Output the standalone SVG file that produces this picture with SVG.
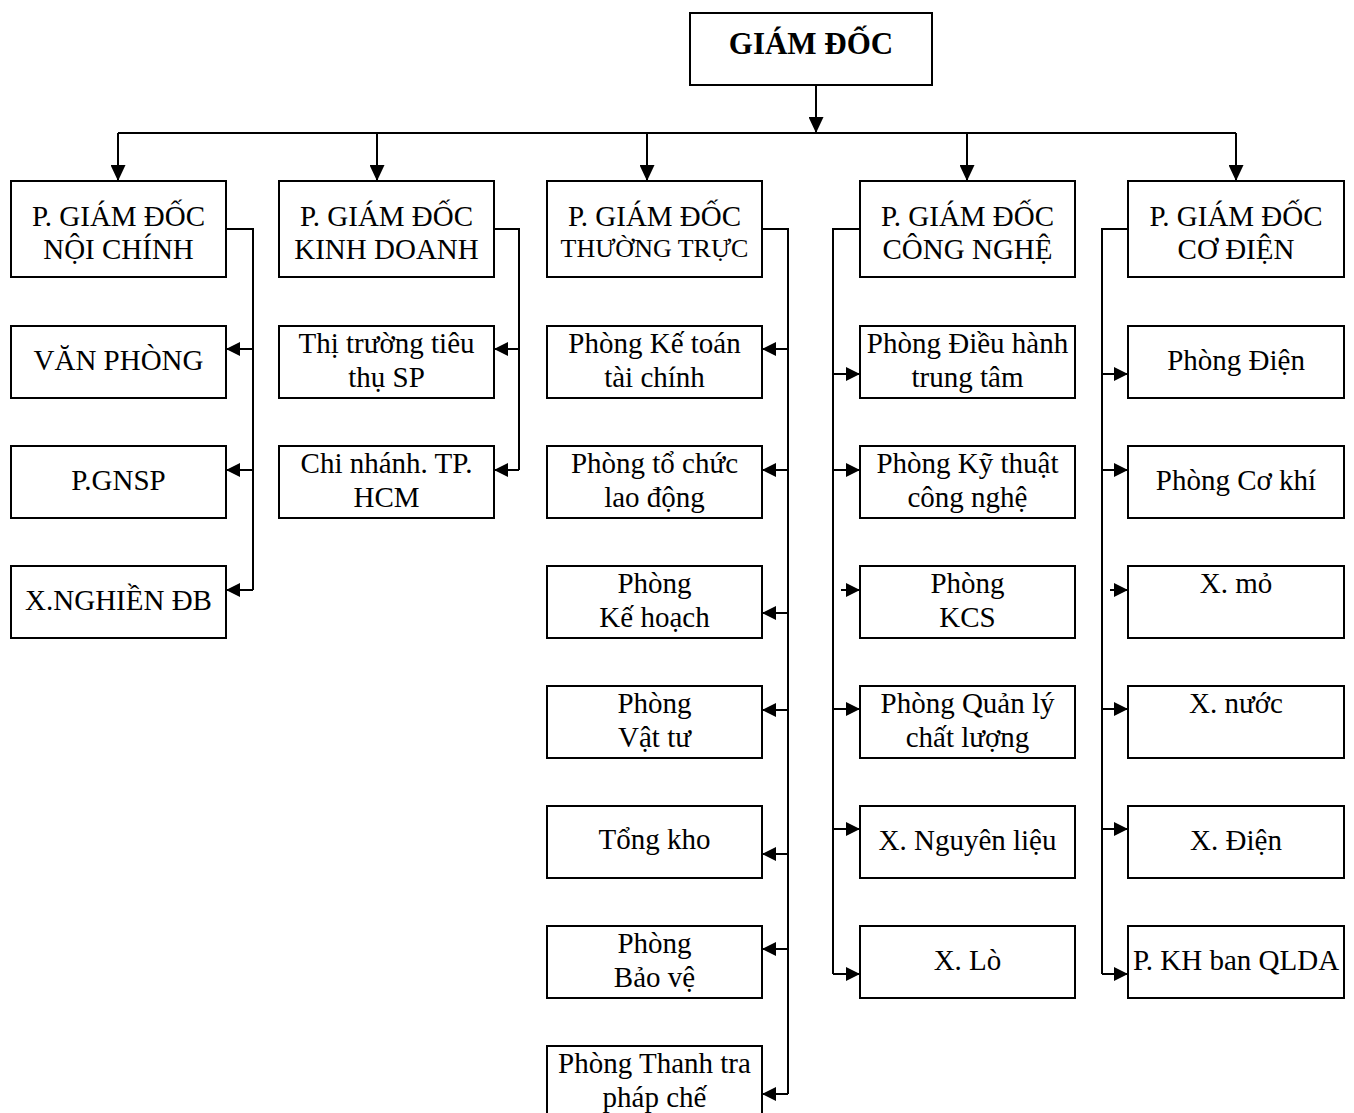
<svg xmlns="http://www.w3.org/2000/svg" width="1354" height="1113" viewBox="0 0 1354 1113">
<style>
.box{fill:#fff;stroke:#000;stroke-width:2}
.t{font-family:"Liberation Serif","Times New Roman",serif;font-size:29px;text-anchor:middle;fill:#000}
.b{font-weight:bold;font-size:31px}
.s{font-size:26px}
.c{fill:none;stroke:#000;stroke-width:2}
.a{fill:none;stroke:#000;stroke-width:2;marker-end:url(#ah)}
.d{fill:none;stroke:#000;stroke-width:2;marker-end:url(#ahd)}
</style>
<defs>
<marker id="ah" viewBox="0 0 14 14" refX="14" refY="7" markerWidth="14" markerHeight="14" orient="auto" markerUnits="userSpaceOnUse"><path d="M0,0 L14,7 L0,14 z" fill="#000"/></marker>
<marker id="ahd" viewBox="0 0 16 15" refX="16" refY="7.5" markerWidth="16" markerHeight="15" orient="auto" markerUnits="userSpaceOnUse"><path d="M0,0 L16,7.5 L0,15 z" fill="#000"/></marker>
</defs>
<rect width="1354" height="1113" fill="#fff"/>
<g id="connectors">
<path class="d" d="M816,85 V133"/>
<path class="c" d="M118,133 H1236"/>
<path class="d" d="M118,133 V181"/>
<path class="d" d="M377,133 V181"/>
<path class="d" d="M647,133 V181"/>
<path class="d" d="M967,133 V181"/>
<path class="d" d="M1236,133 V181"/>
<path class="c" d="M226,229 H253 V590"/>
<path class="a" d="M253,349 H226"/>
<path class="a" d="M253,470 H226"/>
<path class="a" d="M253,590 H226"/>
<path class="c" d="M494,229 H519 V470"/>
<path class="a" d="M519,349 H494"/>
<path class="a" d="M519,470 H494"/>
<path class="c" d="M762,229 H788 V1094"/>
<path class="a" d="M788,349 H762"/>
<path class="a" d="M788,470 H762"/>
<path class="a" d="M788,613 H762"/>
<path class="a" d="M788,710 H762"/>
<path class="a" d="M788,854 H762"/>
<path class="a" d="M788,949 H762"/>
<path class="a" d="M788,1094 H762"/>
<path class="c" d="M860,229 H833 V974"/>
<path class="a" d="M833,374 H860"/>
<path class="a" d="M833,470 H860"/>
<path class="a" d="M841,590 H860"/>
<path class="a" d="M833,709 H860"/>
<path class="a" d="M833,829 H860"/>
<path class="a" d="M833,974 H860"/>
<path class="c" d="M1128,229 H1102 V974"/>
<path class="a" d="M1102,374 H1128"/>
<path class="a" d="M1102,470 H1128"/>
<path class="a" d="M1110,590 H1128"/>
<path class="a" d="M1102,709 H1128"/>
<path class="a" d="M1102,829 H1128"/>
<path class="a" d="M1102,974 H1128"/>
</g>
<g id="giam-doc"><rect class="box" x="690" y="13" width="242" height="72"/><text class="t b" x="811" y="54">GIÁM ĐỐC</text></g>
<g id="pgd-noi-chinh"><rect class="box" x="11" y="181" width="215" height="96"/><text class="t" x="118.5" y="226">P. GIÁM ĐỐC</text><text class="t" x="118.5" y="259">NỘI CHÍNH</text></g>
<g id="pgd-kinh-doanh"><rect class="box" x="279" y="181" width="215" height="96"/><text class="t" x="386.5" y="226">P. GIÁM ĐỐC</text><text class="t" x="386.5" y="259">KINH DOANH</text></g>
<g id="pgd-thuong-truc"><rect class="box" x="547" y="181" width="215" height="96"/><text class="t" x="654.5" y="226">P. GIÁM ĐỐC</text><text class="t s" x="654.5" y="257">THƯỜNG TRỰC</text></g>
<g id="pgd-cong-nghe"><rect class="box" x="860" y="181" width="215" height="96"/><text class="t" x="967.5" y="226">P. GIÁM ĐỐC</text><text class="t" x="967.5" y="259">CÔNG NGHỆ</text></g>
<g id="pgd-co-dien"><rect class="box" x="1128" y="181" width="216" height="96"/><text class="t" x="1236" y="226">P. GIÁM ĐỐC</text><text class="t" x="1236" y="259">CƠ ĐIỆN</text></g>
<g id="van-phong"><rect class="box" x="11" y="326" width="215" height="72"/><text class="t" x="118.5" y="370">VĂN PHÒNG</text></g>
<g id="p-gnsp"><rect class="box" x="11" y="446" width="215" height="72"/><text class="t" x="118.5" y="490">P.GNSP</text></g>
<g id="x-nghien-db"><rect class="box" x="11" y="566" width="215" height="72"/><text class="t" x="118.5" y="610">X.NGHIỀN ĐB</text></g>
<g id="thi-truong"><rect class="box" x="279" y="326" width="215" height="72"/><text class="t" x="386.5" y="353">Thị trường tiêu</text><text class="t" x="386.5" y="387">thụ SP</text></g>
<g id="chi-nhanh"><rect class="box" x="279" y="446" width="215" height="72"/><text class="t" x="386.5" y="473">Chi nhánh. TP.</text><text class="t" x="386.5" y="507">HCM</text></g>
<g id="ke-toan"><rect class="box" x="547" y="326" width="215" height="72"/><text class="t" x="654.5" y="353">Phòng Kế toán</text><text class="t" x="654.5" y="387">tài chính</text></g>
<g id="to-chuc"><rect class="box" x="547" y="446" width="215" height="72"/><text class="t" x="654.5" y="473">Phòng tổ chức</text><text class="t" x="654.5" y="507">lao động</text></g>
<g id="ke-hoach"><rect class="box" x="547" y="566" width="215" height="72"/><text class="t" x="654.5" y="593">Phòng</text><text class="t" x="654.5" y="627">Kế hoạch</text></g>
<g id="vat-tu"><rect class="box" x="547" y="686" width="215" height="72"/><text class="t" x="654.5" y="713">Phòng</text><text class="t" x="654.5" y="747">Vật tư</text></g>
<g id="tong-kho"><rect class="box" x="547" y="806" width="215" height="72"/><text class="t" x="654.5" y="849">Tổng kho</text></g>
<g id="bao-ve"><rect class="box" x="547" y="926" width="215" height="72"/><text class="t" x="654.5" y="953">Phòng</text><text class="t" x="654.5" y="987">Bảo vệ</text></g>
<g id="thanh-tra"><rect class="box" x="547" y="1046" width="215" height="72"/><text class="t" x="654.5" y="1073">Phòng Thanh tra</text><text class="t" x="654.5" y="1107">pháp chế</text></g>
<g id="dieu-hanh"><rect class="box" x="860" y="326" width="215" height="72"/><text class="t" x="967.5" y="353">Phòng Điều hành</text><text class="t" x="967.5" y="387">trung tâm</text></g>
<g id="ky-thuat"><rect class="box" x="860" y="446" width="215" height="72"/><text class="t" x="967.5" y="473">Phòng Kỹ thuật</text><text class="t" x="967.5" y="507">công nghệ</text></g>
<g id="kcs"><rect class="box" x="860" y="566" width="215" height="72"/><text class="t" x="967.5" y="593">Phòng</text><text class="t" x="967.5" y="627">KCS</text></g>
<g id="qlcl"><rect class="box" x="860" y="686" width="215" height="72"/><text class="t" x="967.5" y="713">Phòng Quản lý</text><text class="t" x="967.5" y="747">chất lượng</text></g>
<g id="x-nguyen-lieu"><rect class="box" x="860" y="806" width="215" height="72"/><text class="t" x="967.5" y="850">X. Nguyên liệu</text></g>
<g id="x-lo"><rect class="box" x="860" y="926" width="215" height="72"/><text class="t" x="967.5" y="970">X. Lò</text></g>
<g id="phong-dien"><rect class="box" x="1128" y="326" width="216" height="72"/><text class="t" x="1236" y="370">Phòng Điện</text></g>
<g id="co-khi"><rect class="box" x="1128" y="446" width="216" height="72"/><text class="t" x="1236" y="490">Phòng Cơ khí</text></g>
<g id="x-mo"><rect class="box" x="1128" y="566" width="216" height="72"/><text class="t" x="1236" y="593">X. mỏ</text></g>
<g id="x-nuoc"><rect class="box" x="1128" y="686" width="216" height="72"/><text class="t" x="1236" y="713">X. nước</text></g>
<g id="x-dien"><rect class="box" x="1128" y="806" width="216" height="72"/><text class="t" x="1236" y="850">X. Điện</text></g>
<g id="kh-qlda"><rect class="box" x="1128" y="926" width="216" height="72"/><text class="t" x="1236" y="970">P. KH ban QLDA</text></g>
</svg>
